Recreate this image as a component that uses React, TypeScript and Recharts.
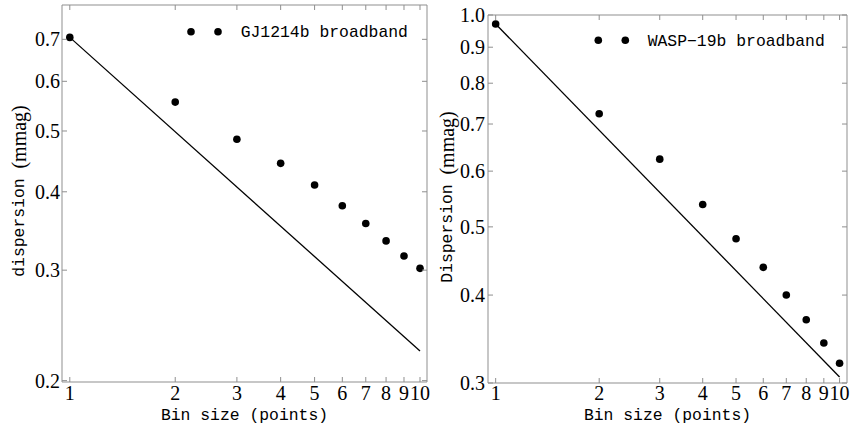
import React from 'react';
import { ComposedChart, Scatter, Line, XAxis, YAxis, Legend } from 'recharts';

const binSizes = [1, 2, 3, 4, 5, 6, 7, 8, 9, 10];
const gjDispersion = [0.705, 0.556, 0.485, 0.444, 0.41, 0.38, 0.356, 0.334, 0.316, 0.302];
const waspDispersion = [0.971, 0.724, 0.624, 0.538, 0.481, 0.438, 0.4, 0.369, 0.342, 0.32];

// white-noise expectation, drawn as a straight line in log-log space
const fitBins = [1, 10];
const gjFit = [0.705, 0.223];
const waspFit = [0.971, 0.306];

const xTicks = [1, 2, 3, 4, 5, 6, 7, 8, 9, 10];
const gjYTicks = [0.2, 0.3, 0.4, 0.5, 0.6, 0.7];
const waspYTicks = [0.3, 0.4, 0.5, 0.6, 0.7, 0.8, 0.9, 1.0];

const FRAME = '#8f8f8f';
const SERIF = '"Liberation Serif", serif';
const MONO = '"Liberation Mono", monospace';
const TICK_LEN = 5;

interface PanelProps {
  width: number;
  // plot box edges inside the chart
  plot: { top: number; right: number; bottom: number; left: number };
  xDomain: [number, number];
  yDomain: [number, number];
  yTicks: number[];
  values: number[];
  fit: number[];
  legendText: string;
  legendDots: [number, number];
  legendY: number;
  legendTextX: number;
  yLabel: string;
  yLabelAt: [number, number];
  xLabelX: number;
  yTickGap: number;
}

const Dot = (p: any) => <circle cx={p.cx} cy={p.cy} r={3.8} fill="#000" />;

function Panel(props: PanelProps) {
  const points = binSizes.map((x, i) => ({ x, y: props.values[i] }));
  const fitData = fitBins.map((x, i) => ({ x, y: props.fit[i] }));
  const [lx, ly] = props.yLabelAt;
  const { plot } = props;
  // every axis takes 1px of room, so the margins are one less than the plot edges
  const margin = {
    top: plot.top - 1,
    right: props.width - plot.right - 1,
    bottom: 431 - plot.bottom - 1,
    left: plot.left - 1,
  };

  // pgfplots-style ticks: short grey marks pointing into the plot box
  const bottomTick = (p: any) => (
    <g>
      <line x1={p.x} x2={p.x} y1={plot.bottom} y2={plot.bottom - TICK_LEN} stroke={FRAME} />
      <text x={p.x} y={400} textAnchor="middle" fontFamily={SERIF} fontSize={20} fill="#000">
        {p.payload.value}
      </text>
    </g>
  );
  const topTick = (p: any) => (
    <line x1={p.x} x2={p.x} y1={plot.top} y2={plot.top + TICK_LEN} stroke={FRAME} />
  );
  const leftTick = (p: any) => (
    <g>
      <line x1={plot.left} x2={plot.left + TICK_LEN} y1={p.y} y2={p.y} stroke={FRAME} />
      <text x={plot.left - props.yTickGap} y={p.y + 7} textAnchor="end" fontFamily={SERIF} fontSize={20} fill="#000">
        {Number(p.payload.value).toFixed(1)}
      </text>
    </g>
  );
  const rightTick = (p: any) => (
    <line x1={plot.right} x2={plot.right - TICK_LEN} y1={p.y} y2={p.y} stroke={FRAME} />
  );

  return (
    <ComposedChart width={props.width} height={431} margin={margin}>
      <XAxis
        xAxisId="b"
        dataKey="x"
        type="number"
        scale="log"
        domain={props.xDomain}
        allowDataOverflow
        ticks={xTicks}
        interval={0}
        height={1}
        tickSize={0}
        tickLine={false}
        axisLine={{ stroke: FRAME }}
        tick={bottomTick}
        label={{
          content: () => (
            <text x={props.xLabelX} y={420} textAnchor="middle" fontFamily={MONO} fontSize={16.4} fill="#000">
              Bin size (points)
            </text>
          ),
        }}
      />
      <XAxis
        xAxisId="t"
        orientation="top"
        dataKey="x"
        type="number"
        scale="log"
        domain={props.xDomain}
        allowDataOverflow
        ticks={xTicks}
        interval={0}
        height={1}
        tickSize={0}
        tickLine={false}
        tick={topTick}
        axisLine={{ stroke: FRAME }}
      />
      <YAxis
        yAxisId="l"
        dataKey="y"
        type="number"
        scale="log"
        domain={props.yDomain}
        allowDataOverflow
        ticks={props.yTicks}
        interval={0}
        width={1}
        tickSize={0}
        tickLine={false}
        axisLine={{ stroke: FRAME }}
        tick={leftTick}
        label={{
          content: () => (
            <text
              x={lx}
              y={ly}
              transform={`rotate(-90 ${lx} ${ly})`}
              textAnchor="middle"
              dominantBaseline="central"
              fill="#000"
            >
              <tspan fontFamily={MONO} fontSize={16.4}>{props.yLabel} </tspan>
              <tspan fontFamily={SERIF} fontSize={20}>(mmag)</tspan>
            </text>
          ),
        }}
      />
      <YAxis
        yAxisId="r"
        orientation="right"
        dataKey="y"
        type="number"
        scale="log"
        domain={props.yDomain}
        allowDataOverflow
        ticks={props.yTicks}
        interval={0}
        width={1}
        tickSize={0}
        tickLine={false}
        tick={rightTick}
        axisLine={{ stroke: FRAME }}
      />
      <Legend
        layout="vertical"
        align="center"
        verticalAlign="middle"
        wrapperStyle={{ left: 0, top: 0, width: props.width, height: 60, pointerEvents: 'none' }}
        content={() => (
          <svg width={props.width} height={60} style={{ display: 'block' }}>
            <circle cx={props.legendDots[0]} cy={props.legendY} r={3.8} fill="#000" />
            <circle cx={props.legendDots[1]} cy={props.legendY} r={3.8} fill="#000" />
            <text x={props.legendTextX} y={props.legendY + 5.5} fontFamily={MONO} fontSize={16.4} fill="#000">
              {props.legendText}
            </text>
          </svg>
        )}
      />
      <Line
        xAxisId="b"
        yAxisId="l"
        data={fitData}
        dataKey="y"
        stroke="#000"
        strokeWidth={1.3}
        dot={false}
        legendType="none"
        isAnimationActive={false}
      />
      <Scatter
        xAxisId="b"
        yAxisId="l"
        data={points}
        dataKey="y"
        fill="#000"
        shape={Dot}
        isAnimationActive={false}
      />
    </ComposedChart>
  );
}

export default function App() {
  return (
    <div style={{ position: 'absolute', left: 0, top: 0, width: 850, height: 431, background: '#fff' }}>
      <div style={{ position: 'absolute', left: 0, top: 0 }}>
        <Panel
          width={430}
          plot={{ top: 5, right: 427, bottom: 382, left: 62 }}
          xDomain={[0.95, 10.47]}
          yDomain={[0.199, 0.794]}
          yTicks={gjYTicks}
          values={gjDispersion}
          fit={gjFit}
          legendText="GJ1214b broadband"
          legendDots={[191, 218]}
          legendY={31.7}
          legendTextX={240.7}
          yLabel="dispersion"
          yLabelAt={[19, 191]}
          xLabelX={244.5}
          yTickGap={2}
        />
      </div>
      <div style={{ position: 'absolute', left: 425, top: 0 }}>
        <Panel
          width={425}
          plot={{ top: 15, right: 422, bottom: 383, left: 63 }}
          xDomain={[0.95, 10.51]}
          yDomain={[0.3, 1.0]}
          yTicks={waspYTicks}
          values={waspDispersion}
          fit={waspFit}
          legendText="WASP−19b broadband"
          legendDots={[173.3, 200.3]}
          legendY={40.3}
          legendTextX={222.7}
          yLabel="Dispersion"
          yLabelAt={[22, 197]}
          xLabelX={242.5}
          yTickGap={3}
        />
      </div>
    </div>
  );
}
